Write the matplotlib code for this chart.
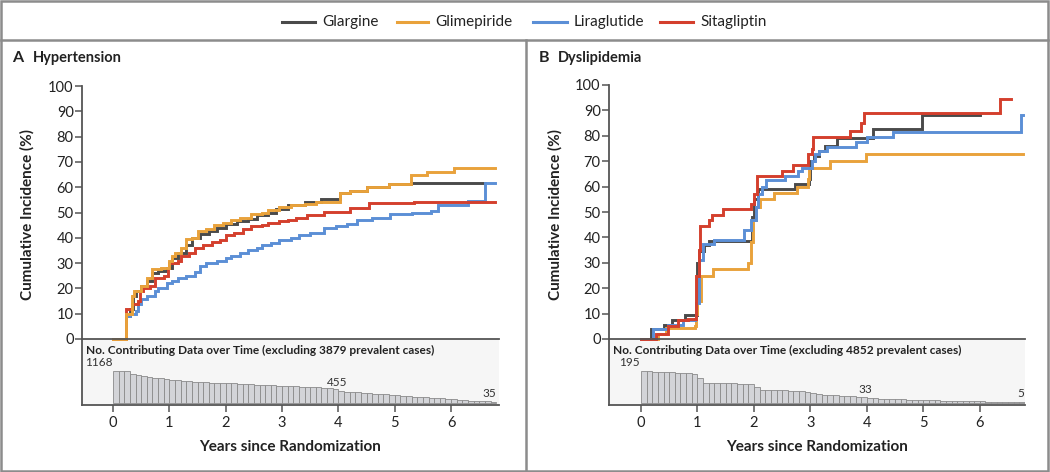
import matplotlib
matplotlib.use("Agg")
import matplotlib.pyplot as plt
from matplotlib.lines import Line2D
from matplotlib.patches import Rectangle

plt.rcParams['font.family'] = ['Lato', 'DejaVu Sans']

# ---------------- data ----------------
series_names = ["Glargine", "Glimepiride", "Liraglutide", "Sitagliptin"]
series_colors = {"Glargine": "#4a4a4a", "Glimepiride": "#e9a23b",
                 "Liraglutide": "#5b8fd6", "Sitagliptin": "#d43f2d"}

# Panel A: Hypertension (years, cumulative incidence %)
a_glargine_t = [0, 0.23, 0.3, 0.35, 0.4, 0.5, 0.6, 0.7, 0.8, 0.95, 1.05, 1.15, 1.3, 1.4, 1.55, 1.7, 1.85,
                2.0, 2.2, 2.4, 2.55, 2.75, 2.9, 3.1, 3.4, 3.7, 4.03, 4.2, 4.5, 4.9, 5.28, 6.6]
a_glargine_v = [0, 9, 12, 17, 19, 21, 23, 26, 27, 28, 32, 34, 37, 40, 41.5, 42.5, 44,
                45.5, 46.5, 47.5, 49, 50, 51.5, 53, 54, 55.5, 57.6, 58.5, 60.2, 61.3, 61.8, 61.8]
a_glimepiride_t = [0, 0.23, 0.33, 0.37, 0.5, 0.6, 0.7, 0.85, 1.0, 1.05, 1.1, 1.2, 1.3, 1.4, 1.5, 1.65, 1.8,
                   1.95, 2.1, 2.25, 2.45, 2.65, 2.75, 2.95, 3.15, 3.4, 3.6, 4.03, 4.2, 4.5, 4.9, 5.28,
                   5.58, 6.05, 6.78]
a_glimepiride_v = [0, 10, 17, 19, 21, 24, 27.5, 28, 31, 33, 34, 36, 39.5, 40, 42.5, 43.5, 45,
                   46, 47, 48, 49.5, 50, 51, 52, 53, 53.5, 54, 57.6, 58.5, 60.2, 61.3, 64.8,
                   65.9, 67.5, 67.5]
a_liraglutide_t = [0, 0.23, 0.3, 0.4, 0.45, 0.5, 0.6, 0.75, 0.8, 0.95, 1.05, 1.15, 1.3, 1.45, 1.55, 1.65,
                   1.85, 2.0, 2.1, 2.25, 2.4, 2.55, 2.65, 2.8, 2.95, 3.15, 3.3, 3.5, 3.74, 3.95, 4.15,
                   4.33, 4.6, 4.92, 5.3, 5.64, 5.76, 6.3, 6.6, 6.78]
a_liraglutide_v = [0, 9, 10, 11, 14, 16, 17, 19, 20, 22, 23, 24, 25, 26.5, 29, 30,
                   31, 32, 33, 34, 35, 36, 37, 38, 39, 40, 41, 42, 43.7, 44.5, 45.5,
                   47, 48, 49.4, 50, 50.7, 53, 54.7, 61.8, 61.8]
a_sitagliptin_t = [0, 0.23, 0.33, 0.45, 0.48, 0.53, 0.65, 0.75, 0.9, 0.98, 1.0, 1.15, 1.2, 1.35, 1.45,
                   1.6, 1.75, 1.9, 2.0, 2.15, 2.3, 2.45, 2.65, 2.75, 2.95, 3.1, 3.25, 3.45, 3.74, 4.2,
                   4.55, 5.35, 6.78]
a_sitagliptin_v = [0, 12, 14, 15, 19, 20, 21, 24, 25, 28, 30, 31, 33, 34, 36,
                   37, 38.5, 39, 41, 42, 43.5, 44.5, 45, 46, 46.5, 47, 48, 49, 50.3, 51.6,
                   53.6, 54.3, 54.3]

# Panel B: Dyslipidemia
b_glargine_t = [0, 0.18, 0.4, 0.55, 0.78, 1.0, 1.03, 1.12, 1.2, 1.97, 2.0, 2.07, 2.72, 2.97, 3.0,
                3.07, 3.15, 3.25, 3.47, 4.1, 4.97, 6.0]
b_glargine_v = [0, 4, 5.5, 7.5, 9.5, 30, 34.5, 37, 38.5, 48, 55, 59, 61, 63, 70,
                72, 74, 76, 79, 82.5, 88, 88]
b_glimepiride_t = [0, 0.3, 0.45, 0.95, 0.97, 1.0, 1.06, 1.27, 1.9, 1.95, 1.99, 2.04, 2.1, 2.35, 2.76,
                   2.95, 2.98, 3.35, 3.98, 6.76]
b_glimepiride_v = [0, 2, 4.5, 5, 10, 15, 25, 27.5, 30, 38, 47, 52, 55, 57.5, 60,
                   63, 67.5, 70, 73, 73]
b_liraglutide_t = [0, 0.21, 0.47, 0.74, 0.95, 0.98, 1.03, 1.1, 1.3, 1.83, 1.95, 2.03, 2.08, 2.15, 2.22,
                   2.55, 2.78, 2.85, 3.03, 3.08, 3.15, 3.3, 3.8, 4.0, 4.47, 6.73, 6.76]
b_liraglutide_v = [0, 4, 5.5, 7.5, 8, 14, 31, 37.5, 39, 43, 47, 52, 57, 60, 62.5,
                   64, 66, 67.5, 70, 73, 74, 75.5, 77.5, 79.5, 81.5, 88, 88]
b_sitagliptin_t = [0, 0.27, 0.48, 0.65, 0.83, 0.98, 1.02, 1.05, 1.2, 1.25, 1.45, 1.95, 2.0, 2.05, 2.5,
                   2.7, 2.95, 3.02, 3.05, 3.7, 3.9, 3.95, 6.35, 6.55]
b_sitagliptin_v = [0, 2, 5, 7.5, 8, 25, 35, 44.5, 47, 49, 51, 53, 57, 64, 66,
                   68.5, 73, 75, 79.5, 82, 85, 88.8, 94.5, 94.5]

# Contributing data counts per 0.1-year bin
bin_width = 0.1
a_counts = [1168, 1168, 1168, 1047, 1020, 987, 957, 927, 895, 868,
            843, 825, 808, 790, 774, 758, 750, 742, 735, 728,
            722, 712, 703, 693, 684, 674, 665, 655, 645, 636,
            626, 617, 607, 598, 588, 578, 568, 555, 535, 506,
            455, 409, 398, 386, 373, 361, 345, 328, 311, 294,
            277, 262, 248, 234, 220, 205, 193, 180, 168, 156,
            144, 120, 96, 84, 76, 68, 55, 35]
b_counts = [195, 195, 192, 189, 188, 186, 183, 181, 181, 179,
            153, 125, 122, 121, 120, 120, 119, 118, 118, 117,
            97, 82, 80, 79, 78, 77, 75, 74, 72, 70,
            62, 52, 50, 48, 46, 44, 42, 40, 39, 38,
            33, 29, 27, 25, 24, 23, 22, 21, 20, 19,
            18, 17, 16, 15, 15, 14, 13, 13, 12, 11,
            10, 9, 8, 7, 6, 5, 5, 5]

a_labels = [("1168", 0.0, 1168, "right"), ("455", 3.97, 455, "center"), ("35", 6.8, 35, "right")]
b_labels = [("195", -0.03, 195, "right"), ("33", 3.98, 33, "center"), ("5", 6.78, 5, "right")]

x_ticks = [0, 1, 2, 3, 4, 5, 6]
y_ticks = [0, 10, 20, 30, 40, 50, 60, 70, 80, 90, 100]

# ---------------- figure ----------------
W, H = 1050, 472
fig = plt.figure(figsize=(W / 100, H / 100), dpi=100)
fig.patch.set_facecolor("white")

def fx(px):
    return px / W

def fy(py):
    return 1 - py / H

frame_col = "#8c8c8c"
fig.add_artist(Rectangle((fx(1), fy(471)), fx(1047), 470 / H, transform=fig.transFigure,
                         fill=False, edgecolor=frame_col, lw=1.8))
fig.add_artist(Line2D([fx(1), fx(1048)], [fy(40), fy(40)], transform=fig.transFigure,
                      color=frame_col, lw=1.8))
fig.add_artist(Line2D([fx(526), fx(526)], [fy(40), fy(471)], transform=fig.transFigure,
                      color=frame_col, lw=1.8))

# legend
leg_pos = [(282, 315, 322), (397, 428, 435), (533, 567, 574), (660, 693, 700)]
for name, (x0, x1, xt) in zip(series_names, leg_pos):
    fig.add_artist(Line2D([fx(x0), fx(x1)], [fy(22), fy(22)], transform=fig.transFigure,
                          color=series_colors[name], lw=2.2))
    fig.text(fx(xt), fy(22), name, ha="left", va="center", fontsize=11, color="#222222")

axis_col = "#555555"
text_col = "#222222"

def panel(letter, title, xl, xr, ytop, xmin, xmax, curves, order, counts, clabels, cylim,
          excl, letter_x, title_x, ylabel_x):
    ybot = 339
    ax = fig.add_axes([fx(xl), fy(ybot), fx(xr - xl), (ybot - ytop) / H])
    for name in order:
        t, v = curves[name]
        ax.step(t, v, where="post", color=series_colors[name], lw=2.1, clip_on=False,
                solid_joinstyle="miter")
    ax.set_xlim(xmin, xmax)
    ax.set_ylim(0, 100)
    ax.set_yticks(y_ticks)
    ax.set_xticks([])
    for s in ["top", "right"]:
        ax.spines[s].set_visible(False)
    for s in ["left", "bottom"]:
        ax.spines[s].set_color(axis_col)
        ax.spines[s].set_linewidth(1.3)
    ax.tick_params(axis="y", direction="out", length=5, width=1.1, color=axis_col,
                   labelsize=10.5, labelcolor=text_col, pad=1)
    ax.set_facecolor("none")

    cax = fig.add_axes([fx(xl), fy(405), fx(xr - xl), 66 / H])
    cax.set_facecolor("#f6f6f6")
    cax.bar([i * bin_width for i in range(len(counts))], counts, width=bin_width, align="edge",
            color="#d3d4d8", edgecolor="#8a8a8a", linewidth=0.6)
    cax.set_xlim(xmin, xmax)
    cax.set_ylim(*cylim)
    cax.set_yticks([])
    cax.set_xticks(x_ticks)
    for s in ["top", "right"]:
        cax.spines[s].set_visible(False)
    for s in ["left", "bottom"]:
        cax.spines[s].set_color(axis_col)
        cax.spines[s].set_linewidth(1.3)
    cax.tick_params(axis="x", direction="out", length=5, width=1.1, color=axis_col,
                    labelsize=10.5, labelcolor=text_col, pad=3)
    cax.set_xlabel("Years since Randomization", fontsize=11, fontweight="bold",
                   color=text_col, labelpad=7)
    cax.text(0.01, 0.83, f"No. Contributing Data over Time (excluding {excl} prevalent cases)",
             transform=cax.transAxes, ha="left", va="center", fontsize=8.6,
             fontweight="bold", color=text_col)
    for txt, x, y, ha in clabels:
        cax.annotate(txt, (x, y), xytext=(0, 2), textcoords="offset points", ha=ha,
                     va="bottom", fontsize=8.5, color="#333333")
    cax.set_zorder(0)
    ax.set_zorder(1)

    fig.text(fx(letter_x), fy(58), letter, ha="left", va="center", fontsize=11.5,
             fontweight="bold", color=text_col)
    fig.text(fx(title_x), fy(58), title, ha="left", va="center", fontsize=10.5,
             fontweight="bold", color=text_col)
    fig.text(fx(ylabel_x), fy(215), "Cumulative Incidence (%)", rotation=90, ha="center",
             va="center", fontsize=11, fontweight="bold", color=text_col)

curves_a = {"Glargine": (a_glargine_t, a_glargine_v),
            "Glimepiride": (a_glimepiride_t, a_glimepiride_v),
            "Liraglutide": (a_liraglutide_t, a_liraglutide_v),
            "Sitagliptin": (a_sitagliptin_t, a_sitagliptin_v)}
curves_b = {"Glargine": (b_glargine_t, b_glargine_v),
            "Glimepiride": (b_glimepiride_t, b_glimepiride_v),
            "Liraglutide": (b_liraglutide_t, b_liraglutide_v),
            "Sitagliptin": (b_sitagliptin_t, b_sitagliptin_v)}

panel("A", "Hypertension", 82, 499, 86, -0.55, 6.85, curves_a,
      ["Glargine", "Liraglutide", "Sitagliptin", "Glimepiride"],
      a_counts, a_labels, (-73, 2336), 3879, 12, 33, 27)
panel("B", "Dyslipidemia", 609, 1025, 85, -0.566, 6.8, curves_b,
      ["Glargine", "Glimepiride", "Liraglutide", "Sitagliptin"],
      b_counts, b_labels, (-12, 390), 4852, 539, 558, 555)

fig.savefig("out.png", dpi=100, facecolor="white")
